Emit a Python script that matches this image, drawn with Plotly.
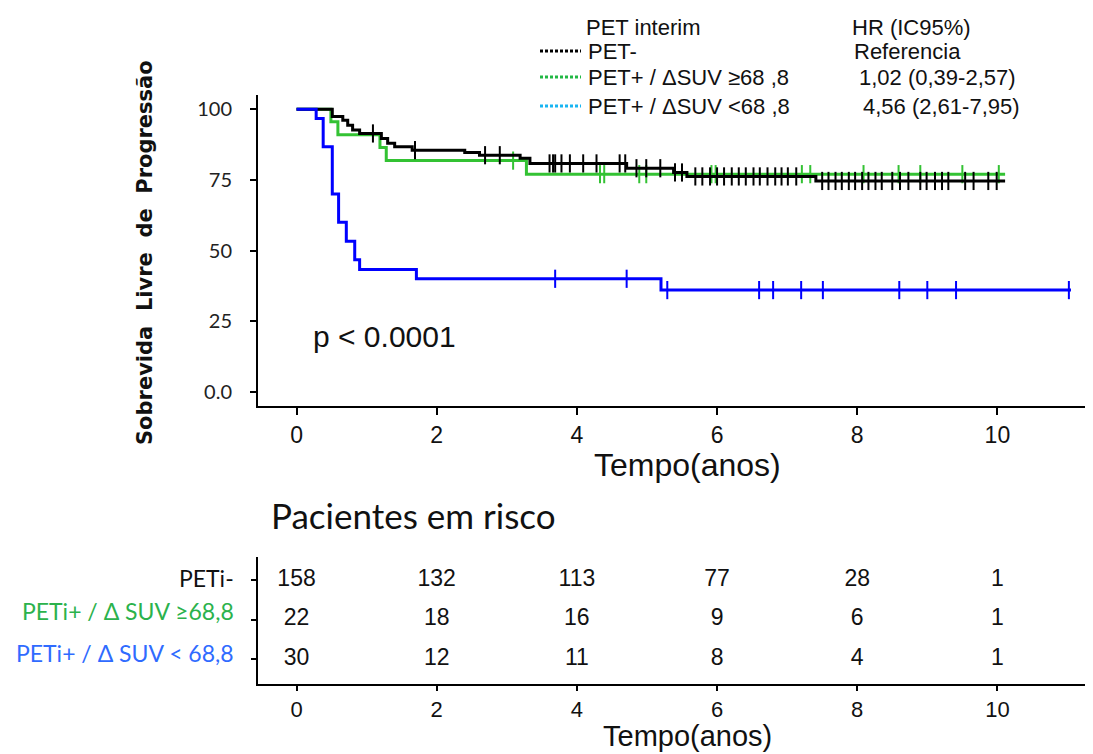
import plotly.graph_objects as go
import numpy as np

W, H = 1093, 754

# ---- Kaplan-Meier step data (time in years, survival in %) ----
black_times = [0, 0.51, 0.66, 0.73, 0.80, 0.90, 1.21, 1.30, 1.40, 1.65, 2.40, 2.61,
               3.19, 3.33, 4.71, 5.38, 5.57, 7.41]
black_surv = [100, 97.4, 96.1, 94.3, 92.6, 91.4, 89.6, 87.9, 86.7, 85.5, 84.7, 83.7,
              82.6, 80.8, 79.1, 77.6, 76.2, 74.6]
black_end = 10.11
black_cens = [1.09, 1.69, 2.69, 2.90, 3.61, 3.66, 3.69, 3.78, 3.90, 4.09, 4.28, 4.61,
              4.69, 4.85, 4.99, 5.19, 5.40, 5.50, 5.69, 5.79, 5.90, 6.00, 6.10, 6.21,
              6.31, 6.41, 6.52, 6.61, 6.72, 6.83, 6.92, 7.01, 7.13, 7.50, 7.59, 7.69,
              7.78, 7.88, 7.97, 8.07, 8.16, 8.26, 8.35, 8.50, 8.61, 8.73, 8.90, 8.99,
              9.11, 9.21, 9.30, 9.54, 9.66, 9.87, 9.99]

green_times = [0, 0.49, 0.59, 1.19, 1.28, 3.28]
green_surv = [100, 95.5, 90.9, 86.4, 81.8, 77.0]
green_end = 10.11
green_cens = [3.09, 4.33, 4.39, 4.89, 4.99, 5.92, 5.98, 7.21, 7.33, 8.09, 8.59, 8.90,
              9.50, 10.02]

blue_times = [0, 0.28, 0.38, 0.51, 0.60, 0.71, 0.83, 0.90, 1.71, 5.20]
blue_surv = [100, 96.7, 86.7, 70.0, 60.0, 53.3, 46.7, 43.3, 40.0, 36.0]
blue_end = 11.05
blue_cens = [3.69, 4.71, 5.29, 6.60, 6.80, 7.20, 7.51, 8.60, 9.00, 9.41, 11.02]

# ---- Numbers at risk ----
risk_times = [0, 2, 4, 6, 8, 10]
risk_black = [158, 132, 113, 77, 28, 1]
risk_green = [22, 18, 16, 9, 6, 1]
risk_blue = [30, 12, 11, 8, 4, 1]

x_ticks = [0, 2, 4, 6, 8, 10]
y_ticks = [0, 25, 50, 75, 100]
y_ticktext = ["0.0", "25", "50", "75", "100"]

BLACK = "#000000"
GREEN = "#33c233"
BLUE = "#0000ff"


def px(x):
    return x / W


def py(y):
    return 1 - y / H


def surv_at(times, surv, t):
    idx = np.searchsorted(np.array(times), t, side="right") - 1
    return surv[max(idx, 0)]


fig = go.Figure()

for times, surv, end, cens, col in [
    (green_times, green_surv, green_end, green_cens, GREEN),
    (black_times, black_surv, black_end, black_cens, BLACK),
    (blue_times, blue_surv, blue_end, blue_cens, BLUE),
]:
    fig.add_trace(go.Scatter(
        x=list(times) + [end], y=list(surv) + [surv[-1]],
        mode="lines", line=dict(color=col, width=3, shape="hv"),
        hoverinfo="skip", showlegend=False, xaxis="x", yaxis="y"))
    fig.add_trace(go.Scatter(
        x=cens, y=[surv_at(times, surv, t) for t in cens],
        mode="markers",
        marker=dict(symbol="line-ns", size=13, line=dict(color=col, width=2)),
        hoverinfo="skip", showlegend=False, xaxis="x", yaxis="y"))

# risk table numbers
for row, vals in [(3, risk_black), (2, risk_green), (1, risk_blue)]:
    fig.add_trace(go.Scatter(
        x=risk_times, y=[row] * len(risk_times), mode="text",
        text=[str(v) for v in vals],
        textfont=dict(family="Arial", size=23, color="#111111"),
        textposition="middle center",
        hoverinfo="skip", showlegend=False, xaxis="x2", yaxis="y2"))

xrange = [-0.55, 11.25]
axis_common = dict(showline=True, linecolor="black", linewidth=2, ticks="outside",
                   tickcolor="black", tickwidth=2, showgrid=False, zeroline=False)

fig.update_layout(
    width=W, height=H,
    margin=dict(l=0, r=0, t=0, b=0),
    plot_bgcolor="white", paper_bgcolor="white",
    xaxis=dict(domain=[px(258), px(1085)], range=xrange, tickvals=x_ticks,
               ticklen=7, tickfont=dict(family="Arial", size=23, color="#111111"),
               anchor="y", **axis_common),
    yaxis=dict(domain=[py(406), py(95)], range=[-5, 105], tickvals=y_ticks,
               ticktext=y_ticktext, ticklen=6, ticklabelstandoff=14,
               tickfont=dict(family="Lato", size=20, color="#222222"),
               anchor="x", **axis_common),
    xaxis2=dict(domain=[px(258), px(1085)], range=xrange, tickvals=x_ticks,
                ticklen=5, tickfont=dict(family="Arial", size=22, color="#111111"),
                anchor="y2", **axis_common),
    yaxis2=dict(domain=[py(684), py(557)], range=[0.36, 3.59], tickvals=[1, 2, 3],
                showticklabels=False, ticklen=5, anchor="x2", **axis_common),
)

ann = []


def add_text(text, x, y, size, color="#111111", family="Arial", xanchor="left",
             bold=False, angle=0):
    ann.append(dict(text=f"<b>{text}</b>" if bold else text, x=px(x), y=py(y),
                    xref="paper", yref="paper", xanchor=xanchor, yanchor="middle",
                    showarrow=False, textangle=angle,
                    font=dict(family=family, size=size, color=color)))


# axis titles
add_text("Sobrevida\u00a0\u00a0Livre\u00a0\u00a0de\u00a0\u00a0Progressão", 145, 253, 21,
         color="#111111", family="DejaVu Sans", xanchor="center", bold=True, angle=-90)
add_text("Tempo(anos)", 687, 465, 32, xanchor="center")
add_text("Tempo(anos)", 687, 736, 29, xanchor="center")

add_text("p < 0.0001", 311, 337, 30)

# risk table heading and row labels
add_text("Pacientes em risco", 269, 515, 35, family="Lato")
add_text("PETi-", 236, 578, 23, color="#111111", family="Lato", xanchor="right")
add_text("PETi+ / Δ SUV ≥68,8", 236, 611, 23, color="#2bb24c", family="Lato",
         xanchor="right")
add_text("PETi+ / Δ SUV < 68,8", 236, 653, 23, color="#2f6bff", family="Lato",
         xanchor="right")

# legend block
add_text("PET interim", 584, 27, 22)
add_text("HR (IC95%)", 850, 27, 22)
add_text("PET-", 586, 51, 22)
add_text("Referencia", 852, 51, 22)
add_text("PET+ / ΔSUV ≥68 ,8", 586, 77, 22)
add_text("1,02 (0,39-2,57)", 857, 77, 22)
add_text("PET+ / ΔSUV <68 ,8", 586, 106, 22)
add_text("4,56 (2,61-7,95)", 861, 106, 22)

fig.update_layout(annotations=ann)

shapes = []
for yy, col in [(51, "#000000"), (77, "#22b845"), (106, "#19b5f2")]:
    shapes.append(dict(type="line", xref="paper", yref="paper",
                       x0=px(540), x1=px(581), y0=py(yy), y1=py(yy),
                       line=dict(color=col, width=3, dash="3px,2px")))
fig.update_layout(shapes=shapes)

fig.write_html("out.html")
